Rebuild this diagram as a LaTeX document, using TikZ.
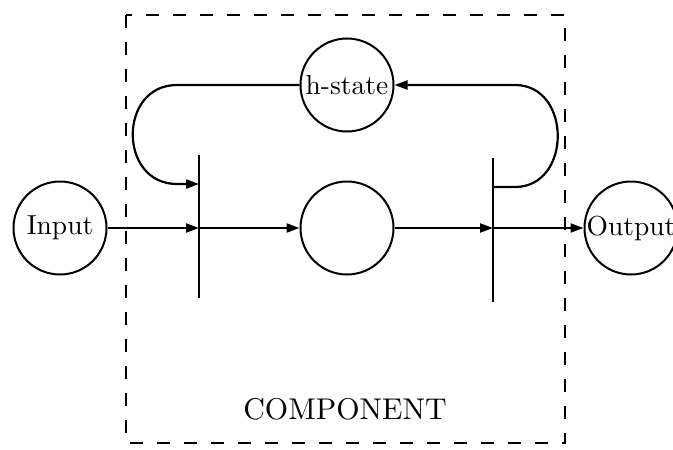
\documentclass[tikz,border=0pt]{standalone}
\usepackage{fontspec}
\setmainfont{lmroman10-regular.otf}
\usetikzlibrary{arrows.meta}
\begin{document}
\begin{tikzpicture}[x=1pt,y=-1pt,
  circ/.style={draw,circle,line width=2pt,minimum size=93pt,inner sep=0pt,font=\fontsize{27.5}{30}\selectfont},
  wire/.style={line width=2.2pt},
  arr/.style={line width=2.2pt,-{Triangle[length=13pt,width=9pt]}},
  boxline/.style={line width=2.8pt,dash pattern=on 13pt off 14pt}]
\useasboundingbox (0,0) rectangle (673,450);
\clip (0,0) rectangle (673,450);
\draw[boxline] (126,15) rectangle (565,443);
\node[circ] (in) at (60,228) {Input};
\node[circ] (hs) at (347,85) {h-state};
\node[circ] (mid) at (347,228) {};
\node[circ] (out) at (631,228) {Output};
\node[font=\fontsize{30}{34}\selectfont] (comp) at (345,409) {COMPONENT};
\coordinate (lbtop) at (199,155);
\coordinate (lbbot) at (199,298);
\coordinate (lmid) at (199,228);
\coordinate (lfb) at (199,184);
\coordinate (rbtop) at (493,158);
\coordinate (rbbot) at (493,302);
\coordinate (rmid) at (493,228);
\coordinate (rfb) at (493,187);
\draw[wire] (lbtop) -- (lbbot);
\draw[wire] (rbtop) -- (rbbot);
\draw[arr] (in) -- (lmid);
\draw[arr] (lmid) -- (mid);
\draw[arr] (mid) -- (rmid);
\draw[arr] (rmid) -- (out);
\draw[arr] (hs.west) -- (177,85) .. controls (118,85) and (118,184) .. (177,184) -- (lfb);
\draw[arr] (rfb) -- (515,187) .. controls (572,187) and (572,85) .. (515,85) -- (hs.east);
\end{tikzpicture}
\end{document}
